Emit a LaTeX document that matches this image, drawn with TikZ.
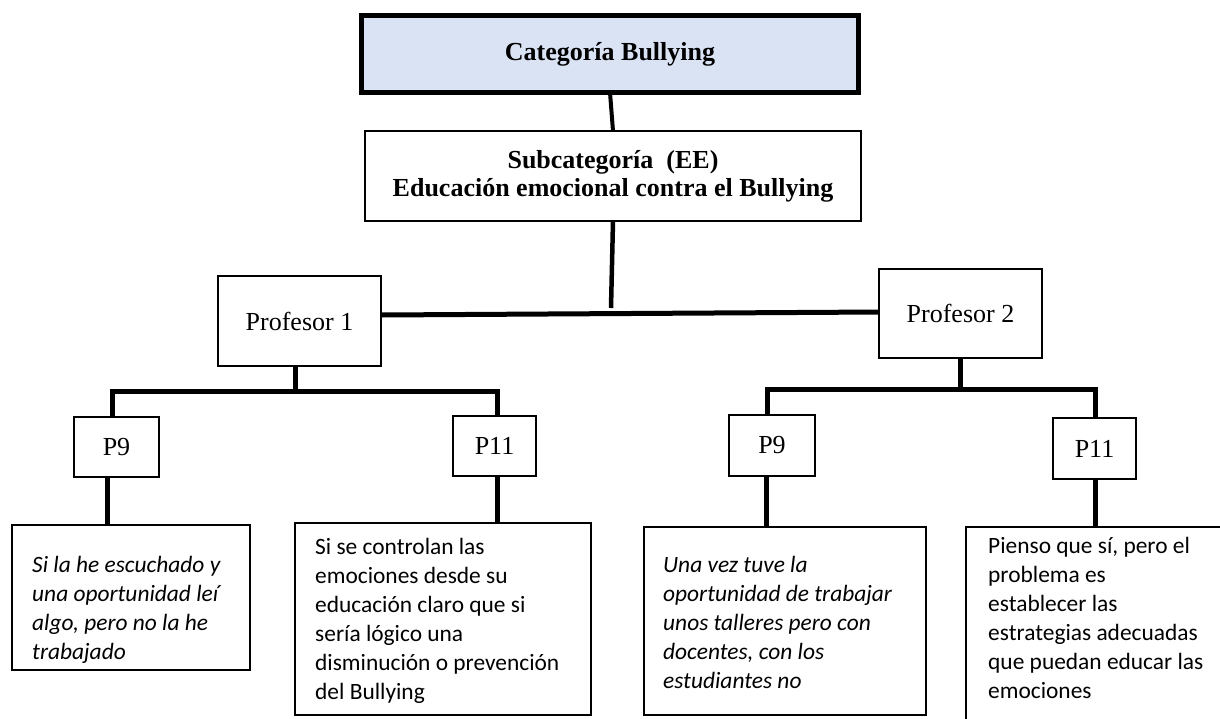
\documentclass[tikz,border=0pt]{standalone}
\usepackage{fontspec}
\setmainfont{Liberation Serif}
\newfontfamily\carlitofont{Carlito}
\definecolor{catblue}{RGB}{218,227,243}
\begin{document}
\begin{tikzpicture}[x=1pt,y=-1pt,
  box/.style={draw=black, line width=2.2pt, inner sep=0pt, outer sep=0pt, fill=white, font=\fontsize{26}{28}\selectfont, align=center},
  con/.style={line width=5pt},
  ans/.style={font=\carlitofont\fontsize{23.4}{29}\selectfont, align=left, inner sep=0pt, anchor=north west}]
\useasboundingbox (0,0) rectangle (1220,718);
\clip (0,0) rectangle (1220,718);
\fill[white] (0,0) rectangle (1220,718);
% main boxes
\node[box, line width=5pt, fill=catblue, minimum width=497pt, minimum height=77pt] (cat) at (610,54) {\bfseries Categoría Bullying};
\node[box, minimum width=496pt, minimum height=90pt] (sub) at (613,176) {\bfseries Subcategoría\ \ (EE)\\\bfseries Educación emocional contra el Bullying};
\node[box, minimum width=163pt, minimum height=90pt] (p1) at (299.5,321) {Profesor 1};
\node[box, minimum width=163pt, minimum height=89pt] (p2) at (960.5,313.5) {Profesor 2};
\node[box, minimum width=85pt, minimum height=60pt] (q1) at (116.5,447) {P9};
\node[box, minimum width=83pt, minimum height=60pt] (q2) at (494.5,446) {P11};
\node[box, minimum width=86pt, minimum height=61pt] (q3) at (772,445.5) {P9};
\node[box, minimum width=83pt, minimum height=61pt] (q4) at (1094.5,448.5) {P11};
% answer boxes
\node[box, minimum width=238pt, minimum height=145pt] (a1) at (131,597.5) {};
\node[box, minimum width=296pt, minimum height=192pt] (a2) at (443,619) {};
\node[box, minimum width=282pt, minimum height=188pt] (a3) at (785,621) {};
\node[box, minimum width=273pt, minimum height=212pt] (a4) at (1102.5,633) {};
\node[ans] (t1) at (32,556) {\itshape Si la he escuchado y\\\itshape una oportunidad leí\\\itshape algo, pero no la he\\\itshape trabajado};
\node[ans] (t2) at (315,538) {Si se controlan las\\emociones desde su\\educación claro que si\\sería lógico una\\disminución o prevención\\del Bullying};
\node[ans] (t3) at (663,556) {\itshape Una vez tuve la\\\itshape oportunidad de trabajar\\\itshape unos talleres pero con\\\itshape docentes, con los\\\itshape estudiantes no};
\node[ans] (t4) at (988,537) {Pienso que sí, pero el\\problema es\\establecer las\\estrategias adecuadas\\que puedan educar las\\emociones};
% connectors
\coordinate (j) at (611,308);
\coordinate (b1) at (295,391);
\coordinate (b2) at (960,389);
\draw[line width=4pt] (cat.south) -- (sub.north);
\draw[line width=4.5pt] (sub.south) -- (j);
\draw[con] ([yshift=6pt]p1.east) -- ([yshift=1.5pt]p2.west);
\draw[con] (p1.south -| b1) -- (b1);
\draw[con] ([xshift=-4.5pt]q1.north) |- ([xshift=2.5pt]q2.north |- b1) -- ([xshift=2.5pt]q2.north);
\draw[con] (p2.south) -- (p2.south |- b2);
\draw[con] ([xshift=-5pt]q3.north) |- ([xshift=0.5pt]q4.north |- b2) -- ([xshift=0.5pt]q4.north);
\draw[con] ([xshift=-9.5pt]q1.south) -- ([xshift=-9.5pt]q1.south |- a1.north);
\draw[con] ([xshift=2.5pt]q2.south) -- ([xshift=2.5pt]q2.south |- a2.north);
\draw[con] ([xshift=-6pt]q3.south) -- ([xshift=-6pt]q3.south |- a3.north);
\draw[con] ([xshift=0.5pt]q4.south) -- ([xshift=0.5pt]q4.south |- a4.north);
\end{tikzpicture}
\end{document}
